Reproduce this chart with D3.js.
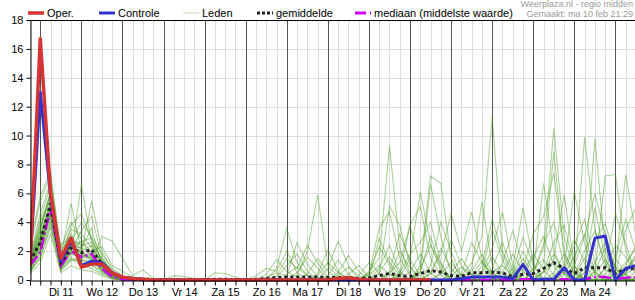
<!DOCTYPE html>
<html>
<head>
<meta charset="utf-8">
<script src="https://cdnjs.cloudflare.com/ajax/libs/d3/7.8.5/d3.min.js"></script>
<style>
  body { margin: 0; background: #fff; }
  svg { font-family: "Liberation Sans", Arial, sans-serif; }
  .grid-light { stroke: #dcdcdc; stroke-width: 1; }
  .grid-day { stroke: #555; stroke-width: 1; }
  .axis text { font-size: 11px; fill: #000; }
  .axis path, .axis line { stroke: #000; }
  .member { fill: none; stroke: #4a9a22; stroke-opacity: 0.45; stroke-width: 1.1; }
  .legend text { font-size: 11px; fill: #000; }
  .credit { font-size: 9px; fill: #9a9a9a; }
</style>
</head>
<body>
<div id="chart"><svg width="635" height="300"></svg></div>
<script>
// 6-hourly steps, first step ma 10 feb 18:00
var startTime = Date.UTC(2025, 1, 10, 18);
var stepHours = 6;
var nSteps = 60;

var dayLabels = ['Di 11', 'Wo 12', 'Do 13', 'Vr 14', 'Za 15', 'Zo 16', 'Ma 17',
  'Di 18', 'Wo 19', 'Do 20', 'Vr 21', 'Za 22', 'Zo 23', 'Ma 24'];
var yTicks = [0, 2, 4, 6, 8, 10, 12, 14, 16, 18];

var legendItems = ['Oper.', 'Controle', 'Leden', 'gemiddelde', 'mediaan (middelste waarde)'];
var creditLines = ['Weerplaza.nl - regio midden', 'Gemaakt: ma 10 feb 21:29'];

// operationele run (stops after ~9 days)
var oper = [1.0, 16.7, 6.0, 1.5, 2.9, 0.9, 1.1, 1.1, 0.5, 0.2, 0.1, 0.05,
  0, 0, 0, 0, 0, 0, 0, 0, 0, 0, 0, 0, 0, 0, 0, 0, 0, 0, 0.1, 0.15, 0.05,
  0, 0, 0, 0, 0, 0, 0];

var controle = [1.1, 13.0, 5.8, 1.3, 2.7, 1.0, 1.3, 1.2, 0.5, 0.2, 0.1, 0.05,
  0, 0, 0, 0, 0, 0, 0, 0, 0, 0, 0, 0, 0, 0, 0, 0, 0, 0, 0, 0, 0, 0, 0, 0, 0, 0, 0, 0,
  0, 0, 0.1, 0.2, 0.2, 0.2, 0.2, 0.1, 1.08, 0, 0.05, 0.05, 0.85, 0, 0, 2.9, 3.05, 0, 0.8, 1.0];

var gemiddelde = [1.3, 2.6, 5.3, 1.2, 2.2, 1.9, 2.1, 1.1, 0.45, 0.2, 0.1, 0.06,
  0.04, 0.03, 0.03, 0.03, 0.02, 0.02, 0.05, 0.05, 0.02, 0.02, 0.05, 0.1,
  0.18, 0.2, 0.2, 0.2, 0.2, 0.18, 0.18, 0.15, 0.1, 0.15, 0.3, 0.45, 0.3, 0.25,
  0.45, 0.65, 0.55, 0.3, 0.25, 0.5, 0.5, 0.55, 0.5, 0.2, 0.4, 0.45, 0.8, 1.2,
  0.8, 0.45, 0.85, 0.85, 0.85, 0.45, 0.75, 0.8];

var mediaan = [1.0, 1.9, 5.0, 1.0, 2.0, 1.6, 1.8, 0.8, 0.2, 0.05, 0, 0,
  0, 0, 0, 0, 0, 0, 0, 0, 0, 0, 0, 0, 0, 0, 0, 0, 0, 0, 0, 0, 0, 0, 0, 0, 0, 0, 0, 0,
  0, 0, 0, 0, 0, 0, 0, 0, 0.05, 0.05, 0.05, 0.05, 0.05, 0, 0.05, 0.2, 0.2, 0.05, 0.15, 0.2];

// ensemble members (leden)
var leden = [
  [0.8,2.6,5.0,1.0,2.0,1.7,1.8,0.9,0.3,0.1,0, 0,0,0,0,0,0,0,0,0,0,0,0,0,
   0.8,3.6,1.2,0.3,0,0,0,0,0,0.5,2.3,1.0,0,0,0,0,0,0,0,0,0.4,1.6,0.5,0,0,0,0,0,0,0,0,1.2,2.6,0.8,0,0],
  [1.2,3.5,5.8,1.4,2.8,2.4,2.6,1.5,0.6,0.2,0.05, 0,0,0,0,0,0,0,0,0,0,0,0,0.2,
   0.5,0.3,2.6,1.1,0.2,0,0,0,0,0,0.4,5.1,3.8,1.0,0,0,0,0,0,0,0,0,0,0,0.6,1.8,0.7,0,0,0.3,2.0,3.4,1.2,0,0.5,1.5],
  [0.5,2.0,4.2,0.8,1.6,1.2,1.0,0.5,0.1,0,0, 0,0,0,0,0,0,0,0,0,0,0,0,0,
   0,0,0.3,2.0,5.9,1.0,0.2,0,0,0,0,0,0,0,0.8,2.4,1.1,0,0,0,0,0,0,0,0,0.5,2.2,10.5,3.0,0.6,0,0,0,0,0.4,0.9],
  [1.5,4.2,6.5,1.8,3.5,3.2,2.2,1.3,0.5,0.1,0, 0,0,0,0,0,0,0,0,0,0,0,0,0,
   0,0,0,0,0,0,0,0,0,0.6,1.5,9.3,2.2,0.4,0,0,0,0,0.3,1.2,3.0,11.3,2.0,0.5,0,0,0,0,0,0,0,0,0.8,2.4,1.6,0.4],
  [0.9,2.2,4.8,0.7,1.3,1.6,2.0,1.0,0.3,0.05,0, 0,0,0,0.3,0.25,0.1,0,0,0,0,0,0,0,
   0,0,0,0,0.4,2.1,0.6,0,0,0,0,0,0.2,1.5,6.1,2.5,0.6,0,0,0,0,0,0,0.3,1.5,0.4,0,0,0,0.5,9.9,3.5,0.8,0,0,0],
  [2.0,5.5,7.2,2.2,4.0,2.8,1.5,0.7,0.2,0,0, 0,0,0,0,0,0,0,0,0,0,0,0,0,
   0,0,0,0,0,0.8,2.7,1.0,0,0,0,0,0,0,1.0,7.2,6.7,1.5,0,0,0,0,0,0,0,0,0.6,1.8,0.5,0,0,0,0,0.4,1.2,2.2],
  [0.6,1.5,3.6,0.6,2.6,4.0,3.0,1.8,0.8,0.3,0.1, 0,0,0,0,0,0,0,0,0,0,0,0,0,
   0.3,1.5,0.8,2.4,1.2,0.2,0,0,0,0,0,0.5,1.2,3.8,1.0,0,0,0,0,0.6,1.8,0.5,0,0,0,0,1.2,8.9,1.6,0.2,0,0,0,0,0,0],
  [1.1,3.0,5.5,1.2,2.2,1.9,5.5,2.0,0.7,0.2,0, 0,0,0,0,0,0,0,0,0,0,0,0,0,
   0,0,0,0,0,0,0.5,1.7,0.6,0,0,0,0,0,0,0.5,1.8,4.6,2.0,4.7,1.5,0,0,0,0,0,0,0,0,0,0,0.6,7.2,7.3,2.0,0.5],
  [0.7,2.8,4.6,1.6,5.3,2.0,1.4,0.6,0.2,0,0, 0,0,0,0,0,0,0,0.5,0.45,0.2,0,0,0.4,
   1.4,0.6,0.2,0,0,0,0,0,0,0,2.9,1.2,0.3,0,0,0,0,0,0,0,0.5,2.2,4.7,1.0,0,0,0,0.3,1.0,6.1,2.5,0.4,0,0,0,0],
  [1.3,3.8,6.0,1.1,1.8,6.6,2.5,1.2,0.4,0.1,0, 0,0,0,0,0,0,0,0,0,0,0,0,0,
   0,0,0,0,0,0,0,0,0,0,0,0,0,0,0.5,6.6,3.0,0.4,0,0,0,0,0,0.8,5.0,1.2,0,0,0,0,0.5,9.8,2.0,0.3,0,0],
  [0.4,1.2,3.2,0.5,1.0,0.7,0.6,0.3,0.05,0,0, 0,0,0,0,0,0,0,0,0,0,0,0,0,
   0,0,0,0,0,0.3,1.4,0.4,0,0,0,0,0,0,0,0,0,0,0,0.8,5.4,1.0,0,0,0,0.5,6.7,2.0,0.5,0,0,0,0,1.0,7.3,3.0],
  [1.0,3.2,5.2,2.4,3.0,1.4,1.2,3.0,2.7,1.5,0.3, 0.7,0.1,0,0,0,0,0,0,0,0,0,0,0,
   0,0,0,0,0,0,0,0,0,0.4,3.6,4.7,1.5,0.3,0,0,0,0,0,0,0,0,0.5,1.8,0.6,0,0,1.5,5.9,1.0,0,0,0,0,0,0],
  [1.6,4.6,6.8,1.5,2.4,2.2,3.6,1.0,0.3,0.1,0, 0,0,0,0,0,0,0,0,0,0,0,0,0,
   0,0,0,0,0,0,0,0,0,0,0,0,0.4,3.8,5.1,1.5,0.3,0,0,0,0,0,0,0,0,0,0,0,0.6,2.4,4.2,1.2,0,0,0,0],
  [0.8,2.4,5.0,1.3,2.0,3.4,4.4,1.6,0.5,0.1,0, 0,0,0,0,0,0,0,0,0,0,0,0.3,0.8,
   0.6,2.0,0.5,0,0,0,0,0.4,1.0,0.2,0,0,0,0,0,0,0.5,2.8,1.0,0,0,0,0,0,0.8,3.2,4.4,7.4,2.0,0.4,0,0,0,0,0.5,1.8],
  [2.5,5.8,7.5,1.9,3.2,1.8,1.3,0.8,0.3,0.05,0, 0,0,0,0,0,0,0,0,0,0,0,0,0,
   0,0,0.5,1.6,0.8,0,0,0,0,0,0,0.3,2.0,0.8,0,0,0,0,0.4,2.6,1.2,0.3,0,0,0,0,0,0,0,1.0,3.0,6.0,3.2,0.8,0,0],
  [0.9,2.7,4.4,1.0,2.6,2.6,2.0,2.3,1.0,0.6,0.2, 0.1,0,0,0,0,0,0,0,0,0,0,0,0,
   0,0,0,0,0,0,0,0,0.3,1.2,0.5,0,0,0,0,1.0,4.0,2.0,0.3,0,0,0,1.2,3.4,1.0,0,0,0,0,0.3,1.5,0.5,0,0,0,0.6],
  [1.2,3.4,6.2,0.9,1.5,1.0,0.8,0.4,0.1,0,0, 0,0,0,0,0,0,0,0,0,0,0,0,0,
   0.2,1.0,1.8,0.6,0,0,0,0,0,0,0,0,0,0,0,0,0,0,0,0,0.6,3.5,1.4,0,0,0.5,2.5,4.0,1.0,0,0,0,0.8,4.6,2.5,0.4],
  [0.6,1.8,4.0,1.2,3.8,4.6,2.8,1.4,0.6,0.2,0, 0,0,0,0,0,0,0,0,0,0,0,0,0,
   0,0,0,0,0.3,1.2,0.5,0,0,0,0,0,0.5,1.8,2.6,4.0,1.2,0,0,0,0,0,0,0.4,2.0,0.6,0,0,0,0,0.8,5.0,1.5,0,0,0],
  [1.4,4.0,5.6,1.7,2.2,2.0,2.4,1.1,0.4,0.1,0, 0,0,0,0,0,0,0,0,0,0,0,0,0,
   0,0,0,0,0,0,0,0,0,0,0.8,2.4,0.6,0,0,0,0,0.5,1.5,0.4,0,0,0,0,0,0,0.6,2.6,3.8,1.0,0,0,0,0.5,3.5,5.0],
  [1.0,2.9,5.4,0.8,1.8,1.5,1.6,0.8,0.2,0,0, 0,0,0,0,0,0,0,0,0,0,0,0,0,
   0,0.4,0.9,0.3,0,0,0,0,0,0,0,0,0,0,0.6,3.0,0.8,0,0,0,0,0.8,2.6,0.7,0,0,0,0,0.4,1.6,3.2,0.6,0,0,0,0],
  [0.8,2.3,4.6,0.9,2.4,1.8,1.5,0.7,0.2,0.05,0, 0,0,0,0,0,0,0,0,0,0,0,0,0,
   0,0,0,0,0,0,0,0,0,0.3,1.0,0.4,0,0,0,0,0.4,1.2,0.3,0,0,0,0,0,0.3,1.6,3.0,1.0,0,0,0,0.6,2.2,1.0,0.3,0],
  [1.1,3.1,5.0,1.3,2.5,2.2,1.9,1.2,0.4,0.1,0, 0,0,0,0,0,0,0,0,0,0,0,0,0,
   0,0,0,0.4,1.5,0.6,0,0,0,0,0,0.6,3.2,1.4,0.3,0,0,0,0,0,1.0,4.2,1.8,0.2,0,0,0,0.5,1.8,0.5,0,0,0,0.2,1.0,2.4],
  [0.5,1.6,3.8,0.7,1.4,1.3,1.1,0.6,0.1,0,0, 0,0,0,0,0,0,0,0,0,0,0,0,0,
   0,0,0,0,0,0,0,0,0,0,0,0,0,0,0,0,0,0.3,0.9,0.4,0,0,0,0,0,0.8,1.4,0.3,0,0,0.5,2.8,3.9,1.5,0.4,0],
  [1.3,3.6,5.9,1.0,2.1,2.7,2.9,1.3,0.5,0.1,0, 0,0,0,0,0,0,0,0,0,0,0,0,0,
   0,0,0,0,0,0,0.3,0.9,0.3,0,0,0,0,0.6,1.8,0.5,0,0,0,0,0,0.5,1.0,0.3,0,0,0,0,0.8,2.8,1.2,0,0,0,0.8,1.6],
  [0.7,2.1,4.4,1.1,1.9,1.4,1.3,0.9,0.3,0.1,0, 0,0,0,0,0,0,0,0,0,0,0,0,0,
   0,0,0,0,0,0,0,0,0,0,0.5,1.6,0.5,0,0,0,0,0,0,0,0,0,0,0.5,3.0,1.0,0,0,0,0,0,0.4,1.4,0.5,0,0],
  [1.0,2.6,5.3,1.5,2.3,1.6,1.7,0.7,0.2,0,0, 0,0,0,0,0,0,0,0,0,0,0,0,0,
   0,0,0,0,0,0,0,0,0,0,0,0,0,0,0,0.4,2.2,0.8,0,0.3,1.3,0.4,0,0,0,0,0.5,1.2,0.4,0,0,0,0.4,1.6,4.2,2.0]
];

function timeAt(i) {
  return new Date(startTime + i * stepHours * 3600000);
}

var svg = d3.select('#chart svg');
var plotLeft = 30, plotRight = 636, plotTop = 20, plotBottom = 280, svgWidth = 635;

var x = d3.scaleUtc()
  .domain([timeAt(0), timeAt(nSteps - 1)])
  .range([plotLeft, plotRight]);

var y = d3.scaleLinear()
  .domain([0, 18])
  .range([plotBottom, plotTop]);

var line = d3.line()
  .defined(function(d) { return d != null; })
  .x(function(d, i) { return x(timeAt(i)); })
  .y(function(d) { return y(d); });

var sixHours = d3.utcHour.every(6).range(timeAt(0), new Date(+timeAt(nSteps - 1) + 1));
var noons = dayLabels.map(function(l, i) {
  return new Date(Date.UTC(2025, 1, 11 + i, 12));
});

// grid
var grid = svg.append('g');

grid
  .selectAll('line.h')
  .data(yTicks.filter(function(v) { return v > 0 && v < 18; }))
  .enter()
  .append('line')
  .attr('class', 'grid-light')
  .attr('x1', plotLeft)
  .attr('x2', svgWidth)
  .attr('y1', function(d) { return Math.round(y(d)) + 0.5; })
  .attr('y2', function(d) { return Math.round(y(d)) + 0.5; })
;

grid
  .selectAll('line.v')
  .data(sixHours)
  .enter()
  .append('line')
  .attr('class', function(d) { return d.getUTCHours() === 0 ? 'grid-day' : 'grid-light'; })
  .attr('x1', function(d) { return Math.round(x(d)) + 0.5; })
  .attr('x2', function(d) { return Math.round(x(d)) + 0.5; })
  .attr('y1', plotTop)
  .attr('y2', plotBottom)
;

// clip
svg.append('defs')
  .append('clipPath')
  .attr('id', 'plot-clip')
  .append('rect')
  .attr('x', plotLeft)
  .attr('y', plotTop)
  .attr('width', svgWidth - plotLeft)
  .attr('height', plotBottom - plotTop + 4)
;

var plot = svg.append('g').attr('clip-path', 'url(#plot-clip)');

plot
  .append('g')
  .selectAll('path')
  .data(leden)
  .enter()
  .append('path')
  .attr('class', 'member')
  .attr('d', line)
;

plot.append('path')
  .datum(mediaan)
  .attr('d', line)
  .attr('fill', 'none')
  .attr('stroke', '#cc00ee')
  .attr('stroke-width', 2.5)
  .attr('stroke-dasharray', '12,3,2,3')
;

plot.append('path')
  .datum(gemiddelde)
  .attr('d', line)
  .attr('fill', 'none')
  .attr('stroke', '#222')
  .attr('stroke-width', 3)
  .attr('stroke-dasharray', '3,3')
;

plot.append('path')
  .datum(controle)
  .attr('d', line)
  .attr('fill', 'none')
  .attr('stroke', '#3333cc')
  .attr('stroke-width', 3)
  .attr('stroke-linejoin', 'round')
;

plot.append('path')
  .datum(oper)
  .attr('d', line)
  .attr('fill', 'none')
  .attr('stroke', '#d43434')
  .attr('stroke-width', 3.5)
  .attr('stroke-linejoin', 'round')
;

// axes
svg.append('line')
  .attr('x1', plotLeft).attr('x2', svgWidth)
  .attr('y1', plotTop + 0.5).attr('y2', plotTop + 0.5)
  .attr('stroke', '#000')
;

svg.append('g')
  .attr('class', 'axis')
  .attr('transform', 'translate(' + (plotLeft + 0.5) + ',0)')
  .call(d3.axisLeft(y).tickValues(yTicks).tickSize(4).tickSizeOuter(0).tickPadding(3))
;

svg.append('g')
  .attr('class', 'axis')
  .attr('transform', 'translate(0,' + (plotBottom + 0.5) + ')')
  .call(d3.axisBottom(x).tickValues(sixHours).tickSize(5).tickSizeOuter(0).tickFormat(''))
;

svg.append('g')
  .attr('class', 'axis')
  .attr('transform', 'translate(0,' + plotBottom + ')')
  .call(d3.axisBottom(x).tickValues(noons).tickSize(0).tickPadding(8)
    .tickFormat(function(d, i) { return dayLabels[i]; }))
  .call(function(g) { g.select('.domain').remove(); })
;

// legend
var legend = svg.append('g').attr('class', 'legend');
var legendX = [28, 99, 183, 257, 355];
var legendStyles = [
  { stroke: '#d43434', width: 3.5, dash: null, op: 1 },
  { stroke: '#3333cc', width: 3, dash: null, op: 1 },
  { stroke: '#4a9a22', width: 1, dash: null, op: 0.35 },
  { stroke: '#222', width: 3, dash: '3,2', op: 1 },
  { stroke: '#cc00ee', width: 3, dash: '11,4,2,4', op: 1 }
];

legendItems.forEach(function(name, i) {
  var s = legendStyles[i];
  legend.append('line')
    .attr('x1', legendX[i]).attr('x2', legendX[i] + 16)
    .attr('y1', 13).attr('y2', 13)
    .attr('stroke', s.stroke)
    .attr('stroke-width', s.width)
    .attr('stroke-opacity', s.op)
    .attr('stroke-dasharray', s.dash)
  ;
  legend.append('text')
    .attr('x', legendX[i] + 19)
    .attr('y', 17)
    .text(name)
  ;
});

svg.append('g')
  .selectAll('text')
  .data(creditLines)
  .enter()
  .append('text')
  .attr('class', 'credit')
  .attr('x', 633)
  .attr('y', function(d, i) { return 7 + i * 10; })
  .attr('text-anchor', 'end')
  .text(function(d) { return d; })
;
</script>
</body>
</html>
